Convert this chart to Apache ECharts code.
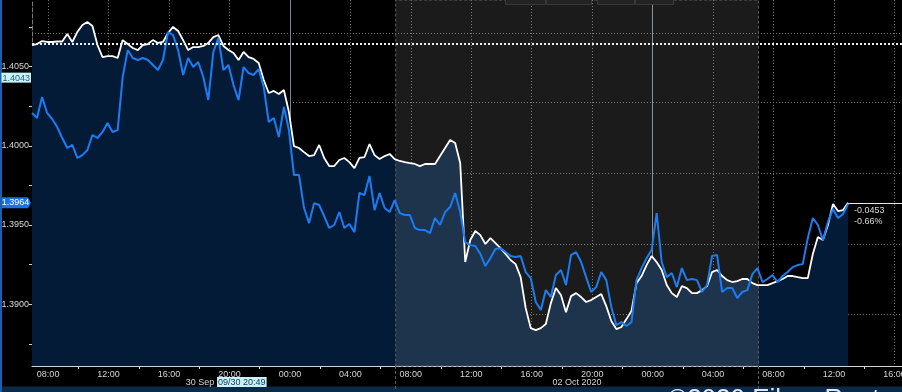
<!DOCTYPE html>
<html><head><meta charset="utf-8">
<script src="https://cdn.jsdelivr.net/npm/echarts@6/dist/echarts.min.js"></script>
<style>html,body{margin:0;padding:0;background:#000;overflow:hidden}#c{width:902px;height:392px}</style>
</head><body><div id="c"></div>
<script>
// ---- data (hours since 30 Sep 00:00, 20-minute samples) ----
const startHour = 6 + 56 / 60;
const stepHours = 1 / 3;
const whiteValues = [
1.40636,1.40642,1.40661,1.40655,1.40655,1.40658,1.40658,1.40705,1.40655,1.40718,
1.40762,1.40781,1.40756,1.40636,1.40560,1.40566,1.40566,1.40554,1.40667,1.40642,
1.40617,1.40604,1.40636,1.40642,1.40667,1.40649,1.40655,1.40712,1.40750,1.40724,
1.40667,1.40604,1.40623,1.40623,1.40630,1.40649,1.40686,1.40699,1.40630,1.40604,
1.40585,1.40541,1.40592,1.40560,1.40548,1.40522,1.40415,1.40333,1.40346,1.40327,
1.40352,1.40213,1.39998,1.39986,1.39960,1.39935,1.39941,1.40005,1.39923,1.39872,
1.39872,1.39910,1.39923,1.39897,1.39859,1.39923,1.39929,1.40011,1.39941,1.39916,
1.39935,1.39948,1.39916,1.39904,1.39897,1.39891,1.39885,1.39872,1.39885,1.39885,
1.39885,1.39935,1.39986,1.40036,1.40017,1.39891,1.39266,1.39405,1.39462,1.39436,
1.39380,1.39417,1.39386,1.39354,1.39317,1.39279,1.39253,1.39171,1.38976,1.38849,
1.38837,1.38849,1.38875,1.39007,1.39102,1.39058,1.38950,1.39051,1.39070,1.39045,
1.39014,1.39026,1.39045,1.39064,1.38988,1.38894,1.38843,1.38856,1.38906,1.38957,
1.39133,1.39178,1.39247,1.39304,1.39266,1.39216,1.39121,1.39070,1.39045,1.39114,
1.39102,1.39070,1.39070,1.39089,1.39114,1.39203,1.39216,1.39178,1.39152,1.39140,
1.39146,1.39159,1.39159,1.39133,1.39121,1.39121,1.39121,1.39133,1.39146,1.39159,
1.39178,1.39178,1.39171,1.39165,1.39165,1.39317,1.39424,1.39405,1.39500,1.39632,
1.39588,1.39594,1.39640];
const blueValues = [
1.40207,1.40175,1.40308,1.40207,1.40169,1.40118,1.40049,1.39986,1.40005,1.39923,
1.39941,1.39973,1.40068,1.40049,1.40087,1.40144,1.40087,1.40099,1.40434,1.40604,
1.40554,1.40541,1.40554,1.40541,1.40510,1.40478,1.40541,1.40718,1.40699,1.40604,
1.40447,1.40554,1.40497,1.40529,1.40434,1.40289,1.40592,1.40680,1.40478,1.40510,
1.40383,1.40289,1.40497,1.40459,1.40447,1.40484,1.40371,1.40150,1.40175,1.40055,
1.40245,1.40099,1.39815,1.39815,1.39607,1.39512,1.39638,1.39626,1.39556,1.39481,
1.39500,1.39582,1.39481,1.39506,1.39455,1.39702,1.39689,1.39809,1.39594,1.39702,
1.39607,1.39582,1.39657,1.39575,1.39563,1.39563,1.39481,1.39468,1.39468,1.39449,
1.39544,1.39500,1.39582,1.39613,1.39702,1.39582,1.39392,1.39373,1.39367,1.39317,
1.39241,1.39291,1.39348,1.39354,1.39329,1.39304,1.39298,1.39304,1.39203,1.39165,
1.39014,1.38963,1.39089,1.39045,1.39184,1.39216,1.39121,1.39310,1.39329,1.39266,
1.39171,1.39077,1.39108,1.39203,1.39152,1.38982,1.38868,1.38887,1.38862,1.38887,
1.39152,1.39228,1.39291,1.39342,1.39575,1.39266,1.39171,1.39197,1.39108,1.39228,
1.39152,1.39159,1.39152,1.39077,1.39121,1.39304,1.39310,1.39077,1.39102,1.39102,
1.39039,1.39077,1.39089,1.39190,1.39228,1.39140,1.39159,1.39184,1.39140,1.39178,
1.39203,1.39234,1.39247,1.39253,1.39417,1.39544,1.39500,1.39405,1.39519,1.39601,
1.39544,1.39569,1.39632];

// ---- axis / tick definitions ----
const xMax = 64.5;
const yMin = 1.3861, yMax = 1.4092;
const xLabelHours = [8,12,16,20,24,28,32,36,40,44,48,52,56,60,64];
const xMinorTickHours = [10,14,18,22,26,30,34,38,42,46,50,54,58,62];
const dayBreakHours = [24,48];
const yLabelValues = [1.3900,1.3950,1.4000,1.4050];
const yTickValues = [1.3875,1.3900,1.3925,1.3950,1.3975,1.4000,1.4025,1.4050,1.4075];
const blueGridLevels = [1.38934,1.39380,1.39826,1.40274,1.40713];
const refLevel = 1.40644;
const sessionRange = [31,55];
const dateLabelHours = [18.05,43.0];
const dateLabelTexts = ['30 Sep','02 Oct 2020'];
const cursorHour = 20 + 49/60, cursorText = '09/30 20:49', cursorValue = 1.4043;
const changeTexts = ['-0.0453','-0.66%'];
const watermark = '\u00A92020 Eikon Reuters';

// ---- build ----
const times = whiteValues.map((_, i) => startHour + i * stepHours);
const whiteData = times.map((t, i) => [t, whiteValues[i]]);
const blueData = times.map((t, i) => [t, blueValues[i]]);
const lastTime = times[times.length - 1];
const lastWhite = whiteValues[whiteValues.length - 1];
const gridHours = xLabelHours.filter(h => dayBreakHours.indexOf(h) < 0);

const FONT = '"Liberation Sans",Arial,sans-serif';
const FS = 9;
const pad2 = n => String(n).padStart(2, '0');
const hourLabel = v => pad2(((Math.round(v) % 24) + 24) % 24) + ':00';

const hiddenX = (extra) => Object.assign({
  type: 'value', min: startHour, max: xMax, position: 'bottom', gridIndex: 0,
  axisLine: {show: false, onZero: false}, axisTick: {show: false}, axisLabel: {show: false},
  splitLine: {show: false}
}, extra);

const chart = echarts.init(document.getElementById('c'), null, {renderer: 'canvas', width: 902, height: 392});
chart.setOption({
  backgroundColor: '#000000',
  animation: false,
  grid: {left: 32, right: 0, top: 0, bottom: 26, containLabel: false, outerBoundsMode: 'none'},
  xAxis: [
    {
      type: 'value', min: startHour, max: xMax, position: 'bottom', gridIndex: 0,
      axisLine: {show: true, onZero: false, lineStyle: {color: '#cfd3d8', width: 1}},
      axisTick: {show: true, customValues: xMinorTickHours, length: 3, lineStyle: {color: '#cfd3d8'}},
      axisLabel: {customValues: xLabelHours, formatter: hourLabel, color: '#d4d4d4', fontSize: FS, fontFamily: FONT, margin: 4},
      splitLine: {show: false},
      axisPointer: {
        show: true, status: 'show', value: cursorHour, triggerTooltip: false, snap: false,
        lineStyle: {width: 0, opacity: 0},
        label: {show: true, formatter: () => cursorText, backgroundColor: '#c8f4f4', color: '#10305a',
          fontSize: FS, fontFamily: FONT, padding: [1, 1, 0, 1], margin: 11, borderRadius: 0}
      }
    },
    hiddenX({axisTick: {show: false, customValues: gridHours},
      splitLine: {show: true, lineStyle: {color: '#6c6c6c', width: 1, type: [1, 2]}}}),
    hiddenX({axisTick: {show: false, customValues: dayBreakHours},
      splitLine: {show: true, lineStyle: {color: '#7c8592', width: 1, type: 'solid'}}}),
    hiddenX({axisLabel: {show: true, customValues: dateLabelHours,
      formatter: v => { const i = dateLabelHours.findIndex(h => Math.abs(h - v) < 1e-6); return i >= 0 ? dateLabelTexts[i] : ''; },
      color: '#d4d4d4', fontSize: FS, fontFamily: FONT, margin: 12}}),
    hiddenX({axisTick: {show: true, customValues: sessionRange, length: 24, inside: false,
      lineStyle: {color: '#5c5c5c', width: 1, type: [3, 2]}}})
  ],
  yAxis: [
    {
      type: 'value', min: yMin, max: yMax, position: 'left', gridIndex: 0,
      axisLine: {show: true, onZero: false, lineStyle: {color: '#7a7a7a', width: 1, type: [4, 2]}},
      axisTick: {show: true, customValues: yTickValues, length: 3, lineStyle: {color: '#cfcfcf'}},
      axisLabel: {customValues: yLabelValues, formatter: v => v.toFixed(4), color: '#d8d8d8', fontSize: FS, fontFamily: FONT, margin: 3},
      splitLine: {show: false},
      axisPointer: {
        show: true, status: 'show', value: cursorValue, triggerTooltip: false, snap: false,
        lineStyle: {width: 0, opacity: 0},
        label: {show: true, formatter: () => cursorValue.toFixed(4), backgroundColor: '#c8f4f4', color: '#1b5a8c',
          fontSize: FS, fontFamily: FONT, padding: [1, 1, 0, 1], margin: 1, borderRadius: 0}
      }
    },
    {
      type: 'value', min: yMin, max: yMax, position: 'left', gridIndex: 0,
      axisLine: {show: false, onZero: false}, axisTick: {show: false, customValues: blueGridLevels},
      axisLabel: {show: false},
      splitLine: {show: true, lineStyle: {color: '#6c6c6c', width: 1, type: [1, 2]}}
    }
  ],
  series: [
    {
      name: 'fill', type: 'line', xAxisIndex: 0, yAxisIndex: 0, z: 1,
      data: whiteData, showSymbol: false, symbol: 'none',
      lineStyle: {width: 0, opacity: 0},
      areaStyle: {color: '#041b37', opacity: 1}
    },
    {
      name: 'session', type: 'line', xAxisIndex: 0, yAxisIndex: 0, z: 2,
      data: [], symbol: 'none',
      markArea: {
        silent: true, z: 2,
        itemStyle: {color: 'rgba(255,255,255,0.105)', borderColor: '#5e5e5e', borderWidth: 1, borderType: [3, 2]},
        data: [[{xAxis: sessionRange[0]}, {xAxis: sessionRange[1]}]]
      }
    },
    {
      name: 'white', type: 'line', xAxisIndex: 0, yAxisIndex: 0, z: 3,
      data: whiteData, showSymbol: false, symbol: 'none',
      lineStyle: {color: '#ffffff', width: 1.8},
      markLine: {
        silent: true, symbol: ['none', 'none'],
        data: [
          [
            {coord: [startHour, refLevel], lineStyle: {color: '#eeeeee', width: 2, type: [2, 2]}, label: {show: false}},
            {coord: [xMax, refLevel]}
          ],
          [
            {coord: [lastTime, lastWhite], lineStyle: {color: '#e6e6e6', width: 1, type: 'solid'},
              label: {show: true, position: 'insideStartBottom', formatter: () => changeTexts.join('\n'),
                color: '#d8d8d8', fontSize: FS, fontFamily: FONT, lineHeight: 11, distance: 2, padding: [0, 0, 0, 4], align: 'left'}},
            {coord: [xMax, lastWhite]}
          ]
        ]
      },
      markPoint: {
        silent: true,
        data: [{coord: [startHour, lastWhite], value: lastWhite}],
        symbol: 'path://M0,0 L26,0 L29,5 L26,10 L0,10 Z',
        symbolSize: [29, 11],
        symbolOffset: [-15.5, 0],
        itemStyle: {color: '#1a72e4'},
        label: {show: true, position: 'inside', formatter: p => Number(p.value).toFixed(4),
          color: '#ffffff', fontSize: FS, fontFamily: FONT, offset: [-1, 0]}
      }
    },
    {
      name: 'blue', type: 'line', xAxisIndex: 0, yAxisIndex: 0, z: 4,
      data: blueData, showSymbol: false, symbol: 'none',
      lineStyle: {color: '#1c7cf2', width: 2}
    }
  ],
  graphic: [
    {type: 'rect', left: 0, top: 0, z: 10, shape: {width: 2, height: 392}, style: {fill: '#1d5fae'}},
    {type: 'rect', left: 0, top: 386.5, z: -1, shape: {width: 902, height: 6}, style: {fill: '#0b2949'}},
    {type: 'text', left: 668, top: 387, z: 5, style: {text: watermark, fill: '#dfe6ee', font: '26px "Liberation Sans", sans-serif'}},
    {type: 'rect', left: 505, top: -1, z: 5, shape: {width: 40, height: 5}, style: {fill: '#232323', stroke: '#3a3a3a', lineWidth: 1}},
    {type: 'rect', left: 546, top: -1, z: 5, shape: {width: 45, height: 5}, style: {fill: '#232323', stroke: '#3a3a3a', lineWidth: 1}},
    {type: 'rect', left: 597, top: -1, z: 5, shape: {width: 37, height: 5}, style: {fill: '#232323', stroke: '#3a3a3a', lineWidth: 1}},
    {type: 'rect', left: 635, top: -1, z: 5, shape: {width: 38, height: 5}, style: {fill: '#232323', stroke: '#3a3a3a', lineWidth: 1}}
  ]
});
</script>
</body></html>
